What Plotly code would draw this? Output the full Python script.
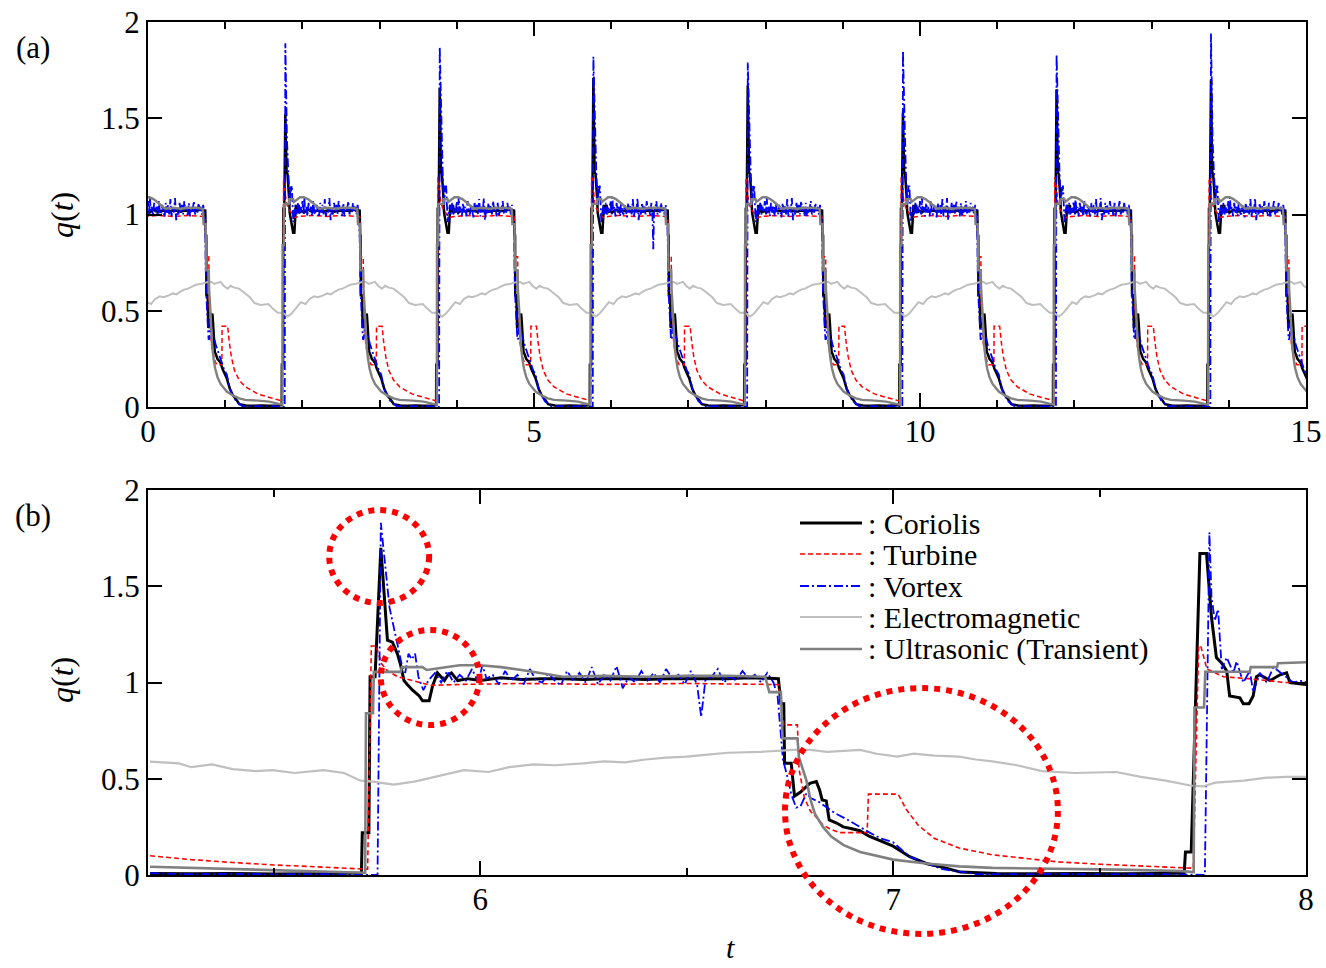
import plotly.graph_objects as go

# ---------------- data: t in [5.2, 8.0] ----------------
t_cor = [5.20, 5.30, 5.40, 5.50, 5.60, 5.70, 5.712, 5.714, 5.730, 5.733, 5.745, 5.759, 5.775, 5.787,
         5.799, 5.807, 5.815, 5.823, 5.836, 5.852, 5.860, 5.876, 5.884, 5.896, 5.905, 5.913, 5.922,
         5.930, 5.945, 5.97, 6.00, 6.05, 6.10, 6.15, 6.20, 6.25, 6.30, 6.35, 6.40, 6.45, 6.50, 6.55,
         6.60, 6.65, 6.70, 6.722, 6.728, 6.735, 6.737, 6.753, 6.761, 6.775, 6.798, 6.814, 6.822, 6.828,
         6.838, 6.845, 6.863, 6.879, 6.90, 6.919, 6.943, 6.967, 7.00, 7.04, 7.08, 7.12, 7.163, 7.25,
         7.35, 7.45, 7.55, 7.65, 7.705, 7.708, 7.722, 7.743, 7.759, 7.771, 7.783, 7.796, 7.808, 7.815,
         7.840, 7.848, 7.862, 7.872, 7.880, 7.888, 7.913, 7.937, 7.953, 7.961, 8.00]
q_cor = [0.008, 0.006, 0.008, 0.005, 0.007, 0.008, 0.010, 0.22, 0.22, 1.03, 1.03, 1.70, 1.22, 1.21,
         1.15, 1.09, 1.01, 0.99, 0.96, 0.93, 0.905, 0.905, 0.98, 1.05, 1.03, 1.01, 1.04,
         1.05, 1.01, 1.02, 1.01, 1.025, 1.015, 1.02, 1.02, 1.015, 1.02, 1.02, 1.015, 1.02, 1.02, 1.02,
         1.02, 1.025, 1.02, 1.02, 0.89, 0.89, 0.58, 0.58, 0.41, 0.43, 0.476, 0.485, 0.44, 0.39,
         0.385, 0.286, 0.27, 0.25, 0.24, 0.23, 0.20, 0.18, 0.15, 0.095, 0.06, 0.04, 0.015, 0.008,
         0.006, 0.008, 0.006, 0.008, 0.010, 0.12, 0.12, 1.67, 1.67, 1.34, 1.13, 1.10, 1.06, 0.93,
         0.92, 0.89, 0.89, 0.93, 1.03, 1.04, 1.01, 1.04, 1.05, 1.00, 0.99]

t_tur = [5.20, 5.30, 5.40, 5.50, 5.60, 5.70, 5.727, 5.736, 5.748, 5.760, 5.775, 5.80, 5.85, 5.88,
         5.95, 6.10, 6.30, 6.50, 6.70, 6.722, 6.735, 6.768, 6.772, 6.785, 6.80, 6.814, 6.83, 6.846,
         6.87, 6.937, 6.940, 7.012, 7.032, 7.06, 7.10, 7.16, 7.24, 7.32, 7.40, 7.50, 7.60, 7.727,
         7.740, 7.745, 7.760, 7.80, 7.86, 7.95, 8.00]
q_tur = [0.10, 0.08, 0.065, 0.052, 0.043, 0.035, 0.03, 1.19, 1.19, 1.10, 1.06, 1.03, 1.00, 0.985,
         0.99, 0.995, 0.99, 0.995, 0.99, 0.99, 0.78, 0.78, 0.55, 0.40, 0.33, 0.30, 0.26, 0.24,
         0.22, 0.22, 0.42, 0.42, 0.34, 0.26, 0.19, 0.14, 0.105, 0.085, 0.068, 0.056, 0.046, 0.035,
         1.19, 1.19, 1.07, 1.03, 1.02, 1.00, 1.00]

t_vor = [5.20, 5.30, 5.40, 5.50, 5.60, 5.70, 5.751, 5.759, 5.780, 5.797, 5.810, 5.818, 5.826, 5.834,
         5.842, 5.850, 5.862, 5.874, 5.890, 5.905,
         5.92, 5.935, 5.95, 5.965, 5.98, 5.995, 6.005, 6.015, 6.03, 6.045, 6.06, 6.075, 6.09, 6.105,
         6.12, 6.135, 6.15, 6.165, 6.18, 6.195, 6.21, 6.225, 6.24, 6.255, 6.27, 6.285, 6.30, 6.315,
         6.33, 6.345, 6.36, 6.375, 6.39, 6.405, 6.42, 6.435, 6.45, 6.465, 6.48, 6.495, 6.51, 6.525,
         6.535, 6.545, 6.56, 6.575, 6.59, 6.605, 6.62, 6.635, 6.65, 6.665, 6.68, 6.695, 6.71,
         6.72, 6.733, 6.745, 6.753, 6.765, 6.775, 6.79, 6.80, 6.82, 6.838, 6.86, 6.887, 6.91, 6.943,
         6.97, 7.00, 7.04, 7.08, 7.12, 7.20, 7.30, 7.40, 7.50, 7.60, 7.70,
         7.755, 7.766, 7.771, 7.779, 7.787, 7.796, 7.808, 7.824, 7.832, 7.848, 7.864, 7.872, 7.888,
         7.905, 7.921, 7.945, 7.969, 7.993, 8.00]
q_vor = [0.010, 0.004, 0.006, 0.003, 0.005, 0.003, 0.0, 1.83, 1.39, 1.22, 1.09, 1.05, 1.15, 1.12,
         1.15, 1.03, 0.96, 1.01, 1.05, 1.00,
         1.06, 1.00, 1.04, 1.01, 1.07, 1.00, 1.09, 1.02, 1.04, 0.99, 1.06, 1.01, 1.04, 0.99,
         1.07, 1.01, 1.00, 1.05, 1.01, 0.985, 1.06, 1.01, 1.05, 1.00, 1.08, 0.99, 1.04, 1.01,
         1.085, 0.97, 1.03, 1.00, 1.06, 1.01, 1.05, 1.00, 1.07, 1.02, 1.04, 0.99, 1.06, 0.99,
         0.82, 1.01, 1.03, 1.07, 1.00, 1.03, 1.01, 1.06, 1.02, 1.04, 1.00, 1.05, 1.00,
         0.93, 0.60, 0.50, 0.42, 0.35, 0.355, 0.425, 0.40, 0.38, 0.355, 0.32, 0.29, 0.26, 0.22,
         0.19, 0.17, 0.095, 0.06, 0.03, 0.005, 0.004, 0.006, 0.003, 0.005, 0.003,
         0.0, 1.78, 1.45, 1.32, 1.38, 1.07, 1.13, 1.05, 1.11, 1.00, 1.06, 0.95, 1.05,
         1.00, 1.08, 1.04, 1.00, 1.01, 1.00]

t_ele = [5.20, 5.27, 5.30, 5.35, 5.40, 5.456, 5.497, 5.55, 5.62, 5.67, 5.71, 5.74, 5.79, 5.84,
         5.89, 5.96, 6.02, 6.07, 6.13, 6.18, 6.25, 6.30, 6.35, 6.40, 6.45, 6.50, 6.55, 6.60, 6.68,
         6.71, 6.76, 6.80, 6.84, 6.88, 6.92, 6.96, 7.01, 7.05, 7.10, 7.16, 7.20, 7.24, 7.30, 7.36,
         7.44, 7.54, 7.60, 7.66, 7.72, 7.75, 7.78, 7.85, 7.90, 7.95, 8.00]
q_ele = [0.589, 0.58, 0.56, 0.575, 0.55, 0.54, 0.545, 0.53, 0.545, 0.53, 0.49, 0.485, 0.47, 0.485,
         0.51, 0.545, 0.535, 0.56, 0.575, 0.57, 0.58, 0.59, 0.585, 0.60, 0.61, 0.615, 0.625, 0.635, 0.64,
         0.645, 0.65, 0.65, 0.64, 0.645, 0.65, 0.63, 0.615, 0.63, 0.62, 0.615, 0.60, 0.59, 0.57, 0.54,
         0.53, 0.535, 0.51, 0.49, 0.465, 0.46, 0.48, 0.49, 0.505, 0.51, 0.51]

t_ult = [5.20, 5.35, 5.50, 5.60, 5.70, 5.721, 5.723, 5.740, 5.742, 5.807, 5.810, 5.86, 5.87, 5.90,
         5.95, 6.00, 6.05, 6.10, 6.17, 6.20, 6.30, 6.40, 6.50, 6.60, 6.69, 6.70, 6.728, 6.732, 6.768,
         6.772, 6.79, 6.80, 6.81, 6.83, 6.85, 6.88, 6.92, 7.00, 7.08, 7.16, 7.24, 7.41, 7.55, 7.70,
         7.728, 7.730, 7.753, 7.756, 7.864, 7.866, 7.930, 7.932, 8.00]
q_ult = [0.043, 0.035, 0.026, 0.02, 0.014, 0.012, 0.84, 0.84, 1.055, 1.055, 1.08, 1.08, 1.065, 1.075,
         1.09, 1.09, 1.08, 1.065, 1.04, 1.03, 1.035, 1.03, 1.035, 1.035, 1.03, 0.95, 0.95, 0.71, 0.71,
         0.61, 0.49, 0.39, 0.32, 0.25, 0.20, 0.155, 0.12, 0.08, 0.06, 0.045, 0.037, 0.033, 0.028, 0.02,
         0.015, 0.87, 0.87, 1.056, 1.056, 1.08, 1.08, 1.10, 1.105]

# ---------------- panel (a): values read per pulse ----------------
rise_a = [-0.25, 1.75, 3.75, 5.74, 7.74, 9.75, 11.74, 13.74]      # rising-edge times
peak_cor_a = [1.70, 1.52, 1.66, 1.71, 1.67, 1.53, 1.65, 1.70]     # Coriolis overshoot per pulse
peak_vor_a = [1.83, 1.89, 1.87, 1.82, 1.79, 1.85, 1.83, 1.94]     # Vortex overshoot per pulse
dip_vor_a = [1.02, 1.02, 1.02, 0.82, 1.02, 1.02, 1.02, 1.02]      # Vortex value at the mid-plateau dropout

names = [": Coriolis", ": Turbine", ": Vortex", ": Electromagnetic", ": Ultrasonic (Transient)"]

for a, b in [(t_cor, q_cor), (t_tur, q_tur), (t_vor, q_vor), (t_ele, q_ele), (t_ult, q_ult)]:
    assert len(a) == len(b), (len(a), len(b))

# ---------------- styles ----------------
FONT = "Liberation Serif, Times New Roman, Times, serif"
styles = [
    dict(color="#000000", width_a=2.5, width_b=3.0, dash="solid"),
    dict(color="#ff0000", width_a=1.5, width_b=1.6, dash="5px,3px"),
    dict(color="#0000ff", width_a=1.8, width_b=1.8, dash="9px,3px,2px,3px"),
    dict(color="#bfbfbf", width_a=2.0, width_b=2.2, dash="solid"),
    dict(color="#808080", width_a=2.4, width_b=2.6, dash="solid"),
]

REF, LO, HI = 5.73, 5.69, 7.69   # one measured period taken from panel (b)
T_DIP = 6.535


def build_a(ts, qs, peaks=None, dips=None):
    tmpl = [(t - REF, q, t) for t, q in zip(ts, qs) if LO <= t < HI]
    kpk = max(range(len(tmpl)), key=lambda i: tmpl[i][1])
    xs, ys = [], []
    for k, r in enumerate(rise_a):
        for i, (dt, q, t) in enumerate(tmpl):
            if peaks is not None and i == kpk:
                q = peaks[k]
            if dips is not None and abs(t - T_DIP) < 1e-9:
                q = dips[k]
            xs.append(r + dt)
            ys.append(q)
    return xs, ys


series_b = [(t_cor, q_cor), (t_tur, q_tur), (t_vor, q_vor), (t_ele, q_ele), (t_ult, q_ult)]
peaks = [peak_cor_a, None, peak_vor_a, None, None]
dips = [None, None, dip_vor_a, None, None]

fig = go.Figure()
for (ts, qs), pk, dp, st, nm in zip(series_b, peaks, dips, styles, names):
    xa, ya = build_a(ts, qs, pk, dp)
    fig.add_trace(go.Scatter(x=xa, y=ya, mode="lines", name=nm, showlegend=False,
                             line=dict(color=st["color"], width=st["width_a"], dash=st["dash"]),
                             xaxis="x", yaxis="y"))
for (ts, qs), st, nm in zip(series_b, styles, names):
    fig.add_trace(go.Scatter(x=ts, y=qs, mode="lines", name=nm, showlegend=False,
                             line=dict(color=st["color"], width=st["width_b"], dash=st["dash"]),
                             xaxis="x2", yaxis="y2"))

# ---------------- layout ----------------
W, H = 1326, 968
ML, MR, MT, MB = 148, 20, 22, 93
PW, PH = W - ML - MR, H - MT - MB
DOM_A = [(H - MB - 407) / PH, 1.0]
DOM_B = [0.0, (H - MB - 490) / PH]
XB_RANGE = [5.195, 8.0]


def px_to_paper(px, py):
    return (px - ML) / PW, (H - MB - py) / PH


axis_common = dict(showline=True, linecolor="black", linewidth=2, mirror="ticks", ticks="inside",
                   ticklen=14, tickwidth=2, tickcolor="black", showgrid=False, zeroline=False,
                   automargin=False,
                   tickfont=dict(family=FONT, size=31, color="black"))
ytick = dict(tickvals=[0, 0.5, 1, 1.5, 2], ticktext=["0", "0.5", "1", "1.5", "2"], range=[0, 2])

fig.update_layout(
    width=W, height=H, margin=dict(l=ML, r=MR, t=MT, b=MB, autoexpand=False), paper_bgcolor="white",
    plot_bgcolor="white", showlegend=False,
    xaxis=dict(axis_common, domain=[0, 1], anchor="y", range=[0, 15], tickvals=[0, 5, 10, 15],
               ticklabelstandoff=-4,
               minor=dict(ticks="inside", ticklen=7, tickwidth=2, tickcolor="black", dtick=1,
                          tick0=0, showgrid=False)),
    yaxis=dict(axis_common, domain=DOM_A, anchor="x", **ytick),
    xaxis2=dict(axis_common, domain=[0, 1], anchor="y2", range=XB_RANGE, tickvals=[6, 7, 8],
                ticklabelstandoff=-4,
                minor=dict(ticks="inside", ticklen=7, tickwidth=2, tickcolor="black", dtick=0.5,
                           tick0=0, showgrid=False)),
    yaxis2=dict(axis_common, domain=DOM_B, anchor="x2", **ytick),
)

ann = []
for txt, (px, py) in [("(a)", (33, 48)), ("(b)", (33, 515))]:
    x, y = px_to_paper(px, py)
    ann.append(dict(text=txt, x=x, y=y, xref="paper", yref="paper", showarrow=False,
                    xanchor="center", yanchor="middle", font=dict(family=FONT, size=31, color="black")))
for py in (215, 680):
    x, y = px_to_paper(62, py)
    ann.append(dict(text="<i>q</i>(<i>t</i>)", x=x, y=y, xref="paper", yref="paper", showarrow=False,
                    textangle=-90, xanchor="center", yanchor="middle",
                    font=dict(family=FONT, size=32, color="black")))
x, y = px_to_paper(730, 966)
ann.append(dict(text="<i>t</i>", x=x, y=y, xref="paper", yref="paper", showarrow=False,
                xanchor="center", yanchor="bottom", font=dict(family=FONT, size=30, color="black")))

# manual legend (long line samples as in the original)
shapes = []
leg_rows = [523, 554, 586, 617, 649]
for nm, st, py in zip(names, styles, leg_rows):
    x0, y0 = px_to_paper(800, py)
    x1, _ = px_to_paper(862, py)
    shapes.append(dict(type="line", xref="paper", yref="paper", x0=x0, x1=x1, y0=y0, y1=y0,
                       line=dict(color=st["color"], width=st["width_b"], dash=st["dash"])))
    tx, _ = px_to_paper(866, py)
    ann.append(dict(text=nm, x=tx, y=y0, xref="paper", yref="paper", showarrow=False,
                    xanchor="left", yanchor="middle", font=dict(family=FONT, size=30, color="black")))

# red dotted highlight circles (t0, t1, q0, q1) on panel (b)
circles = [(5.634, 5.876, 1.413, 1.896), (5.759, 5.998, 0.779, 1.273), (6.738, 7.399, -0.306, 0.971)]
for t0, t1, q0, q1 in circles:
    fx = lambda t: (t - XB_RANGE[0]) / (XB_RANGE[1] - XB_RANGE[0])
    fy = lambda q: DOM_B[0] + q / 2 * (DOM_B[1] - DOM_B[0])
    shapes.append(dict(type="circle", xref="paper", yref="paper", x0=fx(t0), x1=fx(t1),
                       y0=fy(q0), y1=fy(q1), line=dict(color="#ff0000", width=6, dash="dot"),
                       layer="above"))

fig.update_layout(annotations=ann, shapes=shapes)
fig.write_html("out.html", config={"displayModeBar": False},
               post_script="document.body.style.margin='0px';")
